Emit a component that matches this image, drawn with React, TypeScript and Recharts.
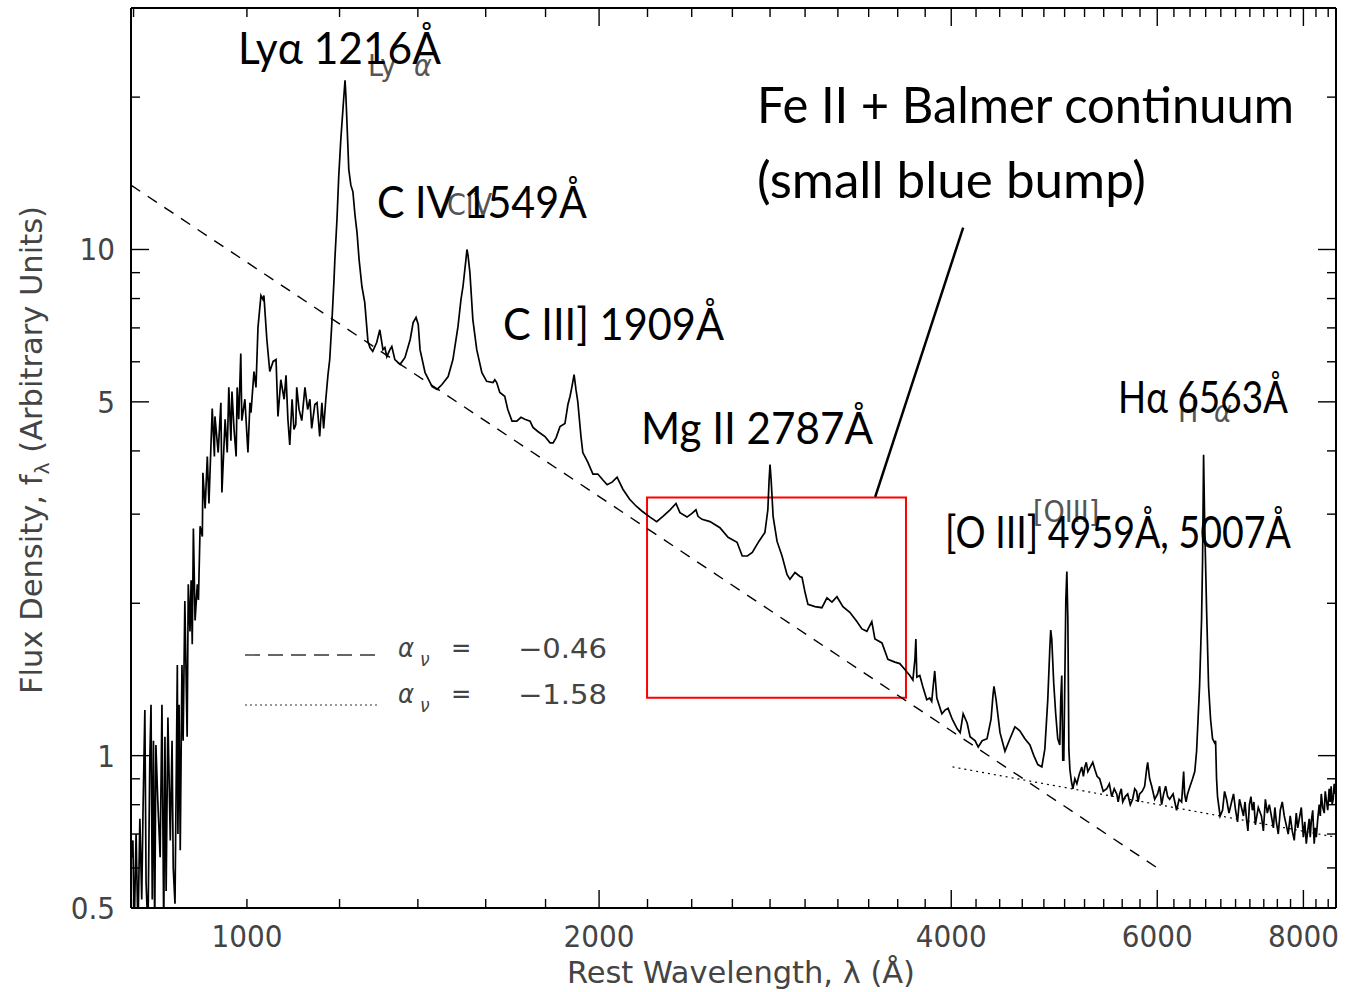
import React from 'react';
import { LineChart, Line, XAxis, YAxis, ReferenceArea, ReferenceLine } from 'recharts';

// composite quasar spectrum (rest wavelength in Å, flux in arbitrary units)
// Lyman-alpha forest, blueward of Ly-alpha
const forestWave = [
  796, 799, 801, 804, 807, 810, 813, 815, 818, 820, 823, 826, 828, 830, 832, 834, 836, 839, 843, 846,
  849, 851, 853, 856, 860, 863, 865, 868, 872, 873, 875, 877, 880, 882, 885, 889, 891, 894, 896, 898,
  900, 903, 907, 909, 912, 916, 917, 921, 925, 928, 934, 938, 939, 945, 950, 952, 958, 962, 965, 969,
  971, 975, 979, 981, 984, 988, 990, 996, 1002, 1006, 1008, 1014, 1018, 1022, 1028, 1032, 1034, 1040, 1046, 1053,
  1059, 1063, 1069, 1076, 1080, 1084, 1088, 1093, 1097, 1101, 1103, 1108, 1114, 1121, 1127, 1132, 1136, 1143, 1148, 1154,
  1159, 1163, 1168, 1173, 1177, 1182, 1187, 1189,
];
const forestFlux = [
  0.62, 0.68, 0.45, 0.70, 0.45, 0.75, 0.52, 0.77, 1.23, 0.56, 0.45, 0.98, 1.26, 0.52, 1.07, 0.45, 1.05, 0.82, 0.63, 1.26,
  0.45, 1.09, 0.54, 1.19, 0.68, 1.07, 0.60, 0.51, 1.51, 0.70, 1.26, 0.65, 1.51, 1.07, 2.02, 1.09, 2.18, 1.76, 2.22, 1.66,
  2.81, 1.85, 2.18, 2.03, 2.84, 2.71, 3.62, 3.08, 3.90, 3.15, 4.85, 3.90, 4.68, 3.97, 4.98, 3.31, 4.62, 3.97, 5.34, 4.19,
  5.24, 4.41, 3.90, 5.34, 4.62, 6.23, 4.59, 5.06, 3.97, 4.98, 4.76, 5.74, 5.34, 7.01, 8.11, 7.97, 8.11, 6.64, 5.74, 6.01,
  6.06, 4.68, 5.53, 5.06, 5.64, 4.62, 4.11, 5.06, 4.41, 4.51, 5.34, 4.83, 4.59, 5.34, 4.83, 5.06, 4.43, 4.94, 4.98, 4.27,
  4.98, 4.43, 5.06, 5.66, 6.06, 7.17, 8.72, 9.56,
];

// Ly-alpha through Mg II
const uvWave = [
  1194, 1198, 1203, 1208, 1213, 1215, 1218, 1222, 1227, 1232, 1237, 1242, 1247, 1254, 1261, 1269, 1274, 1281, 1291, 1299,
  1307, 1312, 1317, 1325, 1330, 1338, 1352, 1365, 1379, 1387, 1395, 1401, 1406, 1420, 1440, 1454, 1468, 1486, 1500, 1515,
  1524, 1530, 1539, 1542, 1545, 1551, 1560, 1572, 1588, 1603, 1623, 1629, 1635, 1645, 1661, 1671, 1685, 1701, 1715, 1728,
  1746, 1756, 1773, 1798, 1816, 1827, 1838, 1852, 1870, 1881, 1889, 1896, 1904, 1911, 1918, 1930, 1937, 1956, 1976, 1995,
  2016, 2032, 2052, 2072, 2096, 2124, 2152, 2177, 2211, 2240, 2268, 2300, 2327, 2345, 2378, 2401, 2420, 2430, 2449, 2488,
  2537, 2578, 2624, 2651, 2678, 2704, 2739, 2772, 2788, 2795, 2800, 2806, 2817, 2839, 2867, 2895, 2912, 2941, 2970, 2982,
  3000,
];
const uvFlux = [
  11.5, 13.9, 16.5, 18.9, 21.6, 20.2, 17.5, 14.4, 13.4, 13.0, 11.7, 10.8, 9.56, 8.45, 7.86, 6.58, 6.40, 6.29, 6.55, 6.94,
  6.34, 6.40, 6.14, 6.34, 6.43, 6.06, 5.93, 6.12, 6.64, 7.17, 7.34, 7.11, 6.34, 5.71, 5.36, 5.29, 5.41, 5.61, 6.06, 7.04,
  7.97, 8.45, 9.56, 10.0, 9.77, 9.00, 7.27, 6.34, 5.71, 5.49, 5.46, 5.53, 5.46, 5.22, 5.13, 4.83, 4.58, 4.58, 4.66, 4.62,
  4.58, 4.45, 4.37, 4.27, 4.15, 4.15, 4.25, 4.47, 4.53, 4.94, 5.13, 5.36, 5.66, 5.29, 5.00, 4.27, 3.97, 3.80, 3.60, 3.60,
  3.50, 3.43, 3.47, 3.55, 3.36, 3.21, 3.11, 3.04, 2.96, 2.90, 2.97, 3.06, 3.15, 3.02, 2.96, 3.01, 3.06, 2.97, 2.93, 2.90,
  2.82, 2.70, 2.64, 2.48, 2.48, 2.52, 2.65, 2.76, 3.06, 3.51, 3.76, 3.51, 2.97, 2.65, 2.48, 2.28, 2.23, 2.30, 2.26, 2.25,
  2.10,
];

// 3000 Å to [O III]
const opticalWave = [
  3017, 3059, 3101, 3132, 3163, 3194, 3232, 3276, 3322, 3355,
  3388, 3421, 3442, 3490, 3531, 3580, 3615, 3651, 3687, 3709,
  3724, 3731, 3738, 3760, 3782, 3812, 3834, 3849, 3865, 3872,
  3888, 3927, 3951, 3975, 4008, 4047, 4071, 4095, 4127, 4151,
  4193, 4218, 4251, 4292, 4326, 4343, 4351, 4369, 4403, 4446,
  4490, 4534, 4578, 4624, 4670, 4706, 4743, 4781, 4809, 4837,
  4856, 4865, 4875, 4894, 4913, 4933, 4953, 4962, 4972, 4982,
  4992, 5002, 5012, 5022, 5032, 5042, 5052,
];
const opticalFlux = [
  1.99, 1.97, 1.96, 2.05, 2.01, 2.06, 1.97, 1.92, 1.84, 1.78,
  1.76, 1.84, 1.70, 1.67, 1.55, 1.53, 1.52, 1.48, 1.44, 1.41,
  1.55, 1.70, 1.43, 1.44, 1.37, 1.29, 1.30, 1.28, 1.41, 1.47,
  1.30, 1.21, 1.23, 1.24, 1.18, 1.13, 1.11, 1.21, 1.16, 1.09,
  1.07, 1.04, 1.07, 1.08, 1.18, 1.32, 1.37, 1.29, 1.11, 1.02,
  1.08, 1.14, 1.12, 1.08, 1.05, 1.00, 0.96, 0.95, 1.03, 1.29,
  1.62, 1.77, 1.70, 1.39, 1.21, 1.08, 1.05, 1.29, 1.44, 0.98,
  0.98, 1.41, 2.03, 2.31, 1.86, 1.03, 0.94,
];

// red end, H-alpha and the noisy tail
const redWave = [
  5067, 5082, 5102, 5122, 5147, 5172, 5188, 5203, 5218, 5234,
  5260, 5285, 5306, 5330, 5357, 5395, 5432, 5460, 5486, 5513,
  5540, 5556, 5572, 5590, 5606, 5634, 5661, 5690, 5716, 5740,
  5761, 5778, 5795, 5825, 5853, 5876, 5888, 5911, 5935, 5970,
  6004, 6028, 6052, 6076, 6100, 6124, 6148, 6190, 6233, 6264,
  6295, 6320, 6332, 6350, 6369, 6400, 6432, 6460, 6483, 6521,
  6547, 6560, 6573, 6586, 6612, 6638, 6664, 6690, 6717, 6730,
  6743, 6756, 6790, 6823, 6850, 6877, 6910, 6945, 6972, 7000,
  7027, 7054, 7082, 7110, 7131, 7152, 7172, 7193, 7215, 7236,
  7257, 7278, 7320, 7365, 7394, 7423, 7452, 7481, 7511, 7541,
  7563, 7585, 7614, 7644, 7674, 7704, 7734, 7764, 7795, 7826,
  7857, 7888, 7911, 7935, 7967, 7999, 8022, 8045, 8068, 8092,
  8108, 8124, 8148, 8172, 8188, 8205, 8229, 8253, 8270, 8286,
  8310, 8335, 8351, 8368, 8392, 8416, 8432, 8449, 8466, 8483,
  8500, 8517,
];
const redFlux = [
  0.89, 0.86, 0.90, 0.88, 0.92, 0.95, 0.91, 0.95, 0.97, 0.93,
  0.95, 0.97, 0.94, 0.91, 0.90, 0.85, 0.86, 0.88, 0.83, 0.86,
  0.84, 0.81, 0.84, 0.86, 0.81, 0.83, 0.84, 0.80, 0.82, 0.86,
  0.85, 0.81, 0.84, 0.85, 0.87, 0.94, 0.97, 0.90, 0.87, 0.82,
  0.84, 0.87, 0.80, 0.84, 0.87, 0.83, 0.82, 0.84, 0.78, 0.82,
  0.81, 0.93, 0.84, 0.81, 0.84, 0.87, 0.90, 0.93, 1.02, 1.37,
  1.86, 2.44, 3.93, 2.93, 1.94, 1.37, 1.18, 1.08, 1.06, 1.07,
  0.90, 0.83, 0.76, 0.78, 0.85, 0.82, 0.77, 0.81, 0.84, 0.78,
  0.74, 0.82, 0.79, 0.76, 0.81, 0.75, 0.71, 0.80, 0.83, 0.78,
  0.81, 0.73, 0.79, 0.76, 0.71, 0.82, 0.77, 0.80, 0.76, 0.72,
  0.79, 0.74, 0.70, 0.78, 0.81, 0.76, 0.73, 0.70, 0.76, 0.71,
  0.68, 0.77, 0.72, 0.75, 0.79, 0.69, 0.74, 0.67, 0.71, 0.75,
  0.69, 0.74, 0.78, 0.67, 0.72, 0.69, 0.75, 0.80, 0.76, 0.84,
  0.79, 0.77, 0.85, 0.82, 0.78, 0.86, 0.81, 0.87, 0.80, 0.82,
  0.88, 0.84,
];

// power-law continuum fits (end points)
const blueFitWave = [796, 6000];
const blueFitFlux = [13.4, 0.6];
const redFitWave = [4010, 8530];
const redFitFlux = [0.95, 0.69];

const xTicks = [
  800, 1000, 1200, 1400, 1600, 1800, 2000, 2200, 2400, 2600, 2800, 3000, 3200, 3400, 3600, 3800, 4000,
  4200, 4400, 4600, 4800, 5000, 5200, 5400, 5600, 5800, 6000, 6200, 6400, 6600, 6800, 7000, 7200, 7400,
  7600, 7800, 8000, 8200, 8400,
];
const xLabelled = [1000, 2000, 4000, 6000, 8000];
const yTicks = [0.5, 0.6, 0.7, 0.8, 0.9, 1, 2, 3, 4, 5, 6, 7, 8, 9, 10, 20];
const yLabelled = [0.5, 1, 5, 10];

const X_DOMAIN = [796, 8530];
const Y_DOMAIN = [0.5, 30];

const toPoints = (w: number[], f: number[]) => w.map((wave, i) => ({ wave, flux: f[i] }));
const spectrum = [
  ...toPoints(forestWave, forestFlux),
  ...toPoints(uvWave, uvFlux),
  ...toPoints(opticalWave, opticalFlux),
  ...toPoints(redWave, redFlux),
];
const blueFit = toPoints(blueFitWave, blueFitFlux);
const redFit = toPoints(redFitWave, redFitFlux);

const IDL_FONT = "'DejaVu Sans Condensed', 'DejaVu Sans', sans-serif";
const IDL_GREY = '#444';
const NOTE_FONT = "Lato, 'Open Sans', sans-serif";

const MAJOR = 18;
const MINOR = 9;

function BottomTick({ x, y, payload }: any) {
  const v = payload.value;
  const lab = xLabelled.includes(v);
  const len = lab && v !== 1000 ? MAJOR : MINOR;
  return (
    <g>
      <line x1={x} x2={x} y1={y} y2={y - len} stroke="#000" strokeWidth={1.4} />
      {lab && (
        <text x={x} y={y + 39} textAnchor="middle" fontFamily={IDL_FONT} fontStretch="condensed" fontSize={31} fill={IDL_GREY}>
          {v}
        </text>
      )}
    </g>
  );
}

function TopTick({ x, y, payload }: any) {
  const v = payload.value;
  const len = xLabelled.includes(v) && v !== 1000 ? MAJOR : MINOR;
  return <line x1={x} x2={x} y1={y} y2={y + len} stroke="#000" strokeWidth={1.4} />;
}

function LeftTick({ x, y, payload }: any) {
  const v = payload.value;
  const lab = yLabelled.includes(v);
  const len = lab ? MAJOR : MINOR;
  return (
    <g>
      <line x1={x} x2={x + len} y1={y} y2={y} stroke="#000" strokeWidth={1.4} />
      {lab && (
        <text x={x - 16} y={y + 11} textAnchor="end" fontFamily={IDL_FONT} fontStretch="condensed" fontSize={31} fill={IDL_GREY}>
          {v}
        </text>
      )}
    </g>
  );
}

function RightTick({ x, y, payload }: any) {
  const len = yLabelled.includes(payload.value) ? MAJOR : MINOR;
  return <line x1={x} x2={x - len} y1={y} y2={y} stroke="#000" strokeWidth={1.4} />;
}

const frame = { stroke: '#000', strokeWidth: 2 };

function Note({ x, y, w, size = 44, children }: any) {
  return (
    <text x={x} y={y} fontFamily={NOTE_FONT} fontSize={size} fill="#000" textLength={w} lengthAdjust="spacingAndGlyphs">
      {children}
    </text>
  );
}

function IdlLabel({ x, y, children, italic = false, size = 30 }: any) {
  return (
    <text x={x} y={y} fontFamily={IDL_FONT} fontStretch="condensed" fontSize={size} fill="#555" fontWeight={300} fontStyle={italic ? 'italic' : 'normal'}>
      {children}
    </text>
  );
}

export default function App() {
  return (
    <div style={{ position: 'absolute', left: 0, top: 0, width: 1346, height: 992, background: '#fff' }}>
      <LineChart width={1346} height={992} data={spectrum} margin={{ top: 0, right: 0, bottom: 0, left: 0 }}>
        <XAxis
          xAxisId="bottom"
          dataKey="wave"
          type="number"
          scale="log"
          domain={X_DOMAIN}
          allowDataOverflow
          ticks={xTicks}
          interval={0}
          tick={<BottomTick />}
          tickLine={false}
          tickSize={0}
          tickMargin={0}
          height={84}
          axisLine={frame}
        />
        <XAxis
          xAxisId="top"
          orientation="top"
          dataKey="wave"
          type="number"
          scale="log"
          domain={X_DOMAIN}
          allowDataOverflow
          ticks={xTicks}
          interval={0}
          tick={<TopTick />}
          tickLine={false}
          tickSize={0}
          tickMargin={0}
          height={8}
          axisLine={frame}
        />
        <YAxis
          yAxisId="left"
          type="number"
          scale="log"
          domain={Y_DOMAIN}
          allowDataOverflow
          ticks={yTicks}
          interval={0}
          tick={<LeftTick />}
          tickLine={false}
          tickSize={0}
          tickMargin={0}
          width={131}
          axisLine={frame}
        />
        <YAxis
          yAxisId="right"
          orientation="right"
          type="number"
          scale="log"
          domain={Y_DOMAIN}
          allowDataOverflow
          ticks={yTicks}
          interval={0}
          tick={<RightTick />}
          tickLine={false}
          tickSize={0}
          tickMargin={0}
          width={10}
          axisLine={frame}
        />

        <Line
          xAxisId="bottom"
          yAxisId="left"
          data={blueFit}
          dataKey="flux"
          type="linear"
          stroke="#000"
          strokeWidth={1.4}
          strokeDasharray="11 9"
          dot={false}
          isAnimationActive={false}
        />
        <Line
          xAxisId="bottom"
          yAxisId="left"
          data={redFit}
          dataKey="flux"
          type="linear"
          stroke="#000"
          strokeWidth={1.2}
          strokeDasharray="2 4"
          dot={false}
          isAnimationActive={false}
        />
        <Line
          xAxisId="bottom"
          yAxisId="left"
          dataKey="flux"
          type="linear"
          stroke="#000"
          strokeWidth={1.7}
          dot={false}
          isAnimationActive={false}
        />

        {/* small blue bump box and pointer */}
        <ReferenceArea
          xAxisId="bottom"
          yAxisId="left"
          x1={2198}
          x2={3659}
          y1={1.302}
          y2={3.236}
          fill="none"
          fillOpacity={0}
          stroke="#ff0000"
          strokeWidth={2}
          ifOverflow="visible"
        />
        <ReferenceLine
          xAxisId="bottom"
          yAxisId="left"
          segment={[{ x: 3444, y: 3.245 }, { x: 4095, y: 11.05 }]}
          stroke="#000"
          strokeWidth={2.5}
          ifOverflow="visible"
        />
      </LineChart>

      <svg width={1346} height={992} style={{ position: 'absolute', left: 0, top: 0, pointerEvents: 'none' }}>
        {/* axis titles */}
        <text x={741} y={983} textAnchor="middle" fontFamily={IDL_FONT} fontStretch="condensed" fontSize={30} fill={IDL_GREY} textLength={348} lengthAdjust="spacingAndGlyphs">
          Rest Wavelength, λ (Å)
        </text>
        <text
          transform="translate(42 450) rotate(-90)"
          textAnchor="middle"
          fontFamily={IDL_FONT}
          fontStretch="condensed"
          fontSize={30}
          fill={IDL_GREY}
          textLength={488}
          lengthAdjust="spacingAndGlyphs"
        >
          Flux Density, f<tspan dy={7} fontSize={20}>λ</tspan><tspan dy={-7}> (Arbitrary Units)</tspan>
        </text>

        {/* legend */}
        <line x1={245} x2={380} y1={655} y2={655} stroke="#333" strokeWidth={1.4} strokeDasharray="15 8" />
        <line x1={245} x2={378} y1={705} y2={705} stroke="#333" strokeWidth={1.2} strokeDasharray="2 3" />
        <g fontFamily={IDL_FONT} fontStretch="condensed" fontSize={27} fill={IDL_GREY}>
          <text x={398} y={657} fontStyle="italic">α</text>
          <text x={420} y={666} fontSize={19} fontStyle="italic">ν</text>
          <text x={451} y={657}>=</text>
          <text x={518} y={658} textLength={89} lengthAdjust="spacingAndGlyphs">−0.46</text>
          <text x={398} y={703} fontStyle="italic">α</text>
          <text x={420} y={712} fontSize={19} fontStyle="italic">ν</text>
          <text x={451} y={703}>=</text>
          <text x={518} y={704} textLength={89} lengthAdjust="spacingAndGlyphs">−1.58</text>
        </g>

        {/* original small line labels */}
        <IdlLabel x={368} y={76}>Ly</IdlLabel>
        <IdlLabel x={414} y={76} italic>α</IdlLabel>
        <IdlLabel x={447} y={215}>CIV</IdlLabel>
        <IdlLabel x={1033} y={522}>[OIII]</IdlLabel>
        <IdlLabel x={1178} y={422}>H</IdlLabel>
        <IdlLabel x={1214} y={422} italic>α</IdlLabel>

        {/* annotations */}
        <Note x={238} y={64} w={203}>Lyα 1216Å</Note>
        <Note x={377} y={218} w={210}>C IV 1549Å</Note>
        <Note x={503} y={340} w={221}>C III] 1909Å</Note>
        <Note x={641} y={444} w={232}>Mg II 2787Å</Note>
        <Note x={1118} y={413} w={170}>Hα 6563Å</Note>
        <Note x={945} y={548} w={346}>[O III] 4959Å, 5007Å</Note>
        <Note x={757} y={123} w={537} size={50}>Fe II + Balmer continuum</Note>
        <Note x={757} y={198} w={389} size={50}>(small blue bump)</Note>
      </svg>
    </div>
  );
}
